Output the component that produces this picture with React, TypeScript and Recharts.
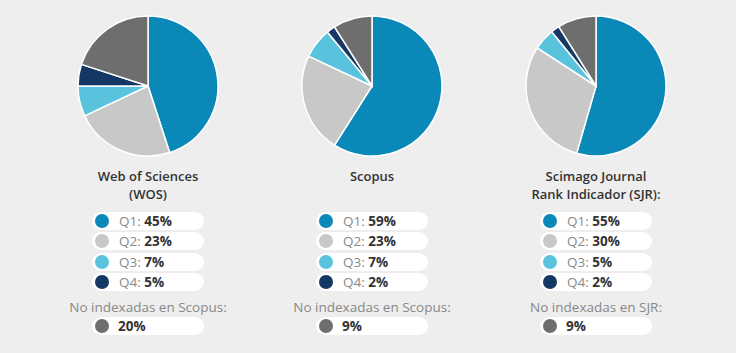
import React from 'react';
import { PieChart, Pie, Cell } from 'recharts';

// Categories and values
const CATEGORIES = ['Q1', 'Q2', 'Q3', 'Q4', 'No indexadas'];
const WOS_VALUES = [45, 23, 7, 5, 20];
const SCOPUS_VALUES = [59, 23, 7, 2, 9];
const SJR_VALUES = [55, 30, 5, 2, 9];
const TITLES = [['Web of Sciences', '(WOS)'], ['Scopus'], ['Scimago Journal', 'Rank Indicador (SJR):']];
const NO_INDEX_LABELS = ['No indexadas en Scopus:', 'No indexadas en Scopus:', 'No indexadas en SJR:'];

const COLORS = ['#0a88b7', '#c8c8c8', '#59c3de', '#143764', '#6e6e6e'];
const CENTERS = [148, 372, 596];
const FONT = '"Open Sans", sans-serif';

const SERIES = [WOS_VALUES, SCOPUS_VALUES, SJR_VALUES];

const toData = (values: number[]) =>
    CATEGORIES.map((name, i) => ({ name, value: values[i] }));

const Pill = ({ top, color, label, value }: { top: number; color: string; label?: string; value: number }) => (
    <div style={{
        position: 'absolute', top, left: 56, width: 112, height: 18,
        background: '#ffffff', borderRadius: 9, display: 'flex', alignItems: 'center',
    }}>
        <div style={{ width: 14, height: 14, borderRadius: 7, background: color, marginLeft: 3, flexShrink: 0 }} />
        <div style={{ marginLeft: label ? 10 : 9, fontSize: 13.5, lineHeight: '18px', whiteSpace: 'nowrap' }}>
            {label && <span style={{ color: '#888888' }}>{label}: </span>}
            <span style={{ color: '#333333', fontWeight: 700 }}>{value}%</span>
        </div>
    </div>
);

const App = () => {
    return (
        <div style={{
            position: 'absolute', left: 0, top: 0, width: 736, height: 353,
            background: '#eeeeee', fontFamily: FONT, overflow: 'hidden',
        }}>
            <PieChart
                width={736}
                height={165}
                margin={{ top: 0, right: 0, bottom: 0, left: 0 }}
                style={{ position: 'absolute', left: 0, top: 0 }}
            >
                {SERIES.map((values, s) => (
                    <Pie
                        key={`pie-${s}`}
                        data={toData(values)}
                        dataKey="value"
                        cx={CENTERS[s]}
                        cy={86}
                        outerRadius={70}
                        startAngle={90}
                        endAngle={-270}
                        stroke="#ffffff"
                        strokeWidth={1.5}
                        isAnimationActive={false}
                    >
                        {values.map((_, i) => (
                            <Cell key={`cell-${s}-${i}`} fill={COLORS[i]} />
                        ))}
                    </Pie>
                ))}
            </PieChart>

            {SERIES.map((values, s) => (
                <div key={`col-${s}`} style={{ position: 'absolute', left: CENTERS[s] - 112, top: 0, width: 224, height: 353 }}>
                    <div style={{
                        position: 'absolute', top: 167, left: 0, width: 224, textAlign: 'center',
                        fontSize: 13, lineHeight: '18px', fontWeight: 600, color: '#333333',
                    }}>
                        {TITLES[s].map((line, k) => <div key={k}>{line}</div>)}
                    </div>
                    {values.slice(0, 4).map((v, i) => (
                        <Pill key={`row-${i}`} top={212 + i * 20.4} color={COLORS[i]} label={CATEGORIES[i]} value={v} />
                    ))}
                    <div style={{
                        position: 'absolute', top: 298, left: 0, width: 224, textAlign: 'center',
                        fontSize: 13.5, lineHeight: '18px', color: '#888888',
                    }}>
                        {NO_INDEX_LABELS[s]}
                    </div>
                    <Pill top={317} color={COLORS[4]} value={values[4]} />
                </div>
            ))}
        </div>
    );
};

export default App;
